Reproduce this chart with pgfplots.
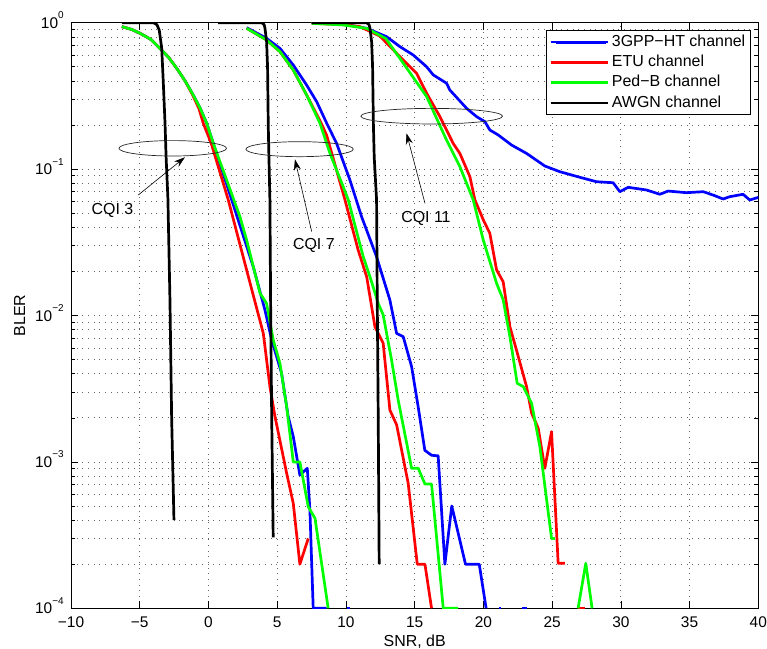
\documentclass[border=0pt]{standalone}
\usepackage{fontspec}
\setmainfont{Liberation Sans}
\usepackage{pgfplots}
\pgfplotsset{compat=1.18}
\usetikzlibrary{arrows.meta}
\newcommand{\tp}[1]{10\raisebox{9.5pt}{\fontsize{10}{10}\selectfont #1}}
\definecolor{mblue}{rgb}{0,0,1}
\definecolor{mred}{rgb}{1,0,0}
\definecolor{mgreen}{rgb}{0,1,0}
\begin{document}
\begin{tikzpicture}
\begin{axis}[
  at={(0,0)}, anchor=south west,
  scale only axis, width=687.3bp, height=585.6bp,
  xmin=-10, xmax=40, ymode=log, ymin=1e-4, ymax=1,
  xtick={-10,-5,0,5,10,15,20,25,30,35,40},
  xticklabels={−10,−5,0,5,10,15,20,25,30,35,40},
  ytick={1e-4,1e-3,1e-2,1e-1,1},
  yticklabels={\tp{−4},\tp{−3},\tp{−2},\tp{−1},\tp{0}},
  minor ytick={2e-4,3e-4,4e-4,5e-4,6e-4,7e-4,8e-4,9e-4,2e-3,3e-3,4e-3,5e-3,6e-3,7e-3,8e-3,9e-3,2e-2,3e-2,4e-2,5e-2,6e-2,7e-2,8e-2,9e-2,0.2,0.3,0.4,0.5,0.6,0.7,0.8,0.9},
  tick pos=both, tick align=inside,
  major tick length=7bp, minor tick length=4bp,
  every tick/.style={black, line width=0.6bp},
  axis line style={black, line width=0.8bp},
  grid=both,
  major grid style={black!60, line width=0.7bp, dash pattern=on 0.8bp off 4.9bp},
  minor grid style={black!60, line width=0.7bp, dash pattern=on 0.8bp off 4.9bp},
  tick label style={font=\fontsize{15.5}{15.5}\selectfont},
  xticklabel style={yshift=-4.8bp},
  yticklabel style={anchor=base east, yshift=-5.5bp, xshift=-3.8bp},
  xlabel={SNR, dB}, ylabel={BLER},
  label style={font=\fontsize{16}{16}\selectfont},
  xlabel style={at={(axis description cs:0.5,-0.0644)}, anchor=base},
  ylabel style={at={(axis description cs:-0.0669,0.5)}, anchor=base, rotate=0},
  legend cell align=left,
  legend style={at={(axis description cs:1,1)}, anchor=north east, xshift=-7.6bp, yshift=-7.3bp,
    draw=black, line width=0.8bp, fill=white, inner xsep=2.5bp, inner ysep=1.6bp,
    font=\fontsize{16}{16}\selectfont,
    nodes={inner xsep=2.5bp, inner ysep=2.65bp, text height=11.5bp, text depth=3.5bp}},
  legend image code/.code={\path (0bp,0bp) -- (57.5bp,0bp); \draw[#1, line width=2.8bp] (5bp,0bp) -- (55bp,0bp);},
  every axis plot/.append style={line width=2.7bp, line join=round},
]
% ---- CQI 3 ----
\addplot[mblue] coordinates {(-6.3,0.94) (-5.6,0.90) (-4.98,0.847) (-4.2,0.77) (-3.53,0.668) (-2.9,0.58) (-2.31,0.488) (-1.7,0.40) (-1.11,0.321) (-0.6,0.26) (-0.13,0.206) (0.35,0.150) (1.69,0.0617) (3.26,0.0215) (4.11,0.0109) (4.60,0.00681) (5.32,0.00403) (5.80,0.00204) (6.17,0.00149) (6.65,8.13e-4) (7.19,9.04e-4) (7.38,4.69e-4) (7.62,1e-4) (8.6,1e-4)};
\addlegendentry{3GPP−HT channel}
\addplot[mred] coordinates {(-6.3,0.94) (-5.6,0.90) (-4.98,0.847) (-4.2,0.77) (-3.53,0.668) (-2.9,0.58) (-2.31,0.488) (-1.7,0.40) (-1.15,0.321) (-0.7,0.26) (-0.38,0.206) (0.2,0.150) (1.44,0.0617) (2.78,0.0204) (3.99,0.00755) (4.47,0.00327) (4.84,0.00204) (5.69,8.36e-4) (6.17,5.21e-4) (6.65,2.0e-4) (7.26,3.0e-4)};
\addlegendentry{ETU channel}
\addplot[mgreen] coordinates {(-6.3,0.94) (-5.6,0.90) (-4.98,0.847) (-4.2,0.77) (-3.53,0.668) (-2.9,0.58) (-2.31,0.488) (-1.7,0.40) (-1.11,0.321) (-0.6,0.26) (-0.13,0.206) (0.35,0.150) (1.32,0.0843) (2.29,0.0473) (2.78,0.0327) (3.75,0.0142) (4.23,0.0121) (4.71,0.00681) (5.2,0.00471) (5.69,0.00238) (6.17,0.001) (6.65,0.001) (7.26,4.94e-4) (7.75,4.12e-4) (8.71,1e-4)};
\addlegendentry{Ped−B channel}
\addplot[black] coordinates {(-6.3,1) (-4.01,1) (-3.75,0.97) (-3.58,0.89) (-3.40,0.668) (-3.29,0.40) (-3.16,0.206) (-3.08,0.12) (-2.95,0.063) (-2.80,0.0126) (-2.68,0.00204) (-2.51,4.0e-4)};
\addlegendentry{AWGN channel}
% ---- CQI 7 ----
\addplot[mblue, forget plot] coordinates {(2.78,0.925) (4.23,0.782) (5.2,0.668) (6.17,0.514) (7.14,0.375) (7.87,0.289) (8.6,0.206) (9.32,0.150) (10.29,0.0843) (11.14,0.0473) (12.23,0.0252) (13.2,0.01274) (13.69,0.00755) (14.17,0.00716) (14.78,0.00447) (15.25,0.0024) (15.74,0.0012) (16.23,0.00111) (16.71,0.0011) (17.2,2.0e-4) (17.7,5e-4) (18.7,2e-4) (19.7,2e-4) (20.2,1e-4)};
\addplot[mred, forget plot] coordinates {(2.78,0.915) (4.23,0.762) (5.2,0.634) (6.17,0.475) (7.14,0.321) (8.2,0.206) (8.6,0.17) (9.93,0.0617) (10.89,0.028) (11.51,0.0184) (12.11,0.00838) (12.35,0.00755) (12.71,0.00646) (13.2,0.00226) (13.69,0.00179) (14.53,7.14e-4) (15.19,2.0e-4) (15.75,2.0e-4) (16.23,1e-4)};
\addplot[mgreen, forget plot] coordinates {(2.78,0.915) (4.23,0.762) (5.2,0.634) (6.17,0.475) (7.14,0.321) (8.11,0.206) (8.84,0.128) (9.8,0.0759) (10.17,0.0617) (11.26,0.0252) (11.75,0.0184) (12.35,0.0121) (12.71,0.0101) (13.32,0.00497) (13.8,0.00265) (14.78,9.04e-4) (15.26,9.04e-4) (15.75,7.06e-4) (16.23,7.06e-4) (17.08,1e-4) (18.17,1e-4)};
\addplot[black, forget plot] coordinates {(0.7,1) (3.87,1) (4.05,0.97) (4.11,0.92) (4.23,0.74) (4.30,0.5) (4.35,0.2) (4.40,0.12) (4.47,0.0617) (4.52,0.0127) (4.60,0.00204) (4.71,3.05e-4)};
% ---- CQI 11 ----
\addplot[mblue, forget plot] coordinates {(7.51,1.0) (9.8,0.98) (11.5,0.916) (12.96,0.802) (13.93,0.686) (14.89,0.602) (15.87,0.50) (16.35,0.44) (17.32,0.386) (17.56,0.347) (18.78,0.26) (19.51,0.228) (20.11,0.211) (20.47,0.185) (21.08,0.171) (22.05,0.146) (23.14,0.128) (24.47,0.105) (25.56,0.096) (27.02,0.0879) (28.23,0.082) (29.44,0.0807) (29.93,0.0701) (30.53,0.0751) (31.87,0.072) (32.84,0.0673) (33.44,0.0708) (34.78,0.069) (35.99,0.0701) (36.71,0.0665) (37.44,0.0625) (37.93,0.0648) (38.89,0.0673) (39.38,0.0615) (40,0.0641)};
\addplot[mred, forget plot] coordinates {(7.51,0.99) (9.8,0.97) (11.02,0.94) (12.47,0.81) (13.93,0.586) (15.14,0.451) (15.87,0.33) (16.84,0.228) (17.8,0.15) (18.29,0.128) (19.02,0.0887) (19.38,0.0617) (20.0,0.0449) (20.47,0.0364) (20.96,0.0205) (21.44,0.017) (21.93,0.00838) (22.41,0.0058) (23.14,0.00327) (23.51,0.00215) (23.99,0.0017) (24.47,9.04e-4) (24.96,0.00161) (25.44,2.03e-4) (25.93,2.03e-4)};
\addplot[mred, forget plot] coordinates {(26.87,1e-4) (27.38,1e-4)};
\addplot[mgreen, forget plot] coordinates {(7.51,0.99) (9.8,0.965) (11.5,0.915) (12.9,0.78) (13.93,0.57) (15.87,0.313) (17.32,0.158) (18.29,0.104) (19.26,0.0617) (19.99,0.0328) (20.96,0.0166) (21.44,0.0128) (21.93,0.00716) (22.46,0.00344) (22.9,0.00327) (23.51,0.00251) (24.11,0.00127) (24.96,3.0e-4) (25.2,3.0e-4)};
\addplot[mgreen, forget plot] coordinates {(26.89,1e-4) (27.45,2.03e-4) (27.91,1e-4)};
\addplot[black, forget plot] coordinates {(7.5,1) (11.5,1) (11.68,0.97) (11.75,0.92) (11.87,0.74) (11.94,0.5) (12.0,0.2) (12.06,0.12) (12.23,0.0617) (12.28,0.0127) (12.35,0.00204) (12.42,2.0e-4)};
\addplot[mblue, forget plot] coordinates {(10.05,1e-4) (10.3,1e-4)};
\addplot[mblue, forget plot] coordinates {(21.1,1e-4) (21.3,1e-4)};
\addplot[mblue, forget plot] coordinates {(22.8,1e-4) (23.2,1e-4)};
% ---- annotations ----
\draw[black!85, line width=0.7bp] (axis cs:-2.60,0.1387) ellipse [x radius=53.8bp, y radius=7.7bp];
\draw[black!85, line width=0.7bp] (axis cs:6.63,0.1368) ellipse [x radius=53.7bp, y radius=7.5bp];
\draw[black!85, line width=0.7bp] (axis cs:16.24,0.2299) ellipse [x radius=70.8bp, y radius=7.8bp];
\draw[line width=0.6bp, -{Stealth[length=11bp,width=7bp]}] (axis cs:-5.11,0.0665) -- (axis cs:-1.71,0.1205);
\draw[line width=0.6bp, -{Stealth[length=11bp,width=7bp]}] (axis cs:7.51,0.0374) -- (axis cs:6.29,0.1167);
\draw[line width=0.6bp, -{Stealth[length=11bp,width=7bp]}] (axis cs:15.75,0.0584) -- (axis cs:14.41,0.1756);
\node[font=\fontsize{16}{16}\selectfont] at (axis cs:-6.98,0.0526) {CQI 3};
\node[font=\fontsize{16}{16}\selectfont] at (axis cs:7.67,0.0303) {CQI 7};
\node[font=\fontsize{16}{16}\selectfont] at (axis cs:15.82,0.0463) {CQI 11};
\end{axis}
\pgfresetboundingbox
\path[use as bounding box] (-71bp,-40.7bp) rectangle (696bp,608.3bp);
\end{tikzpicture}
\end{document}
